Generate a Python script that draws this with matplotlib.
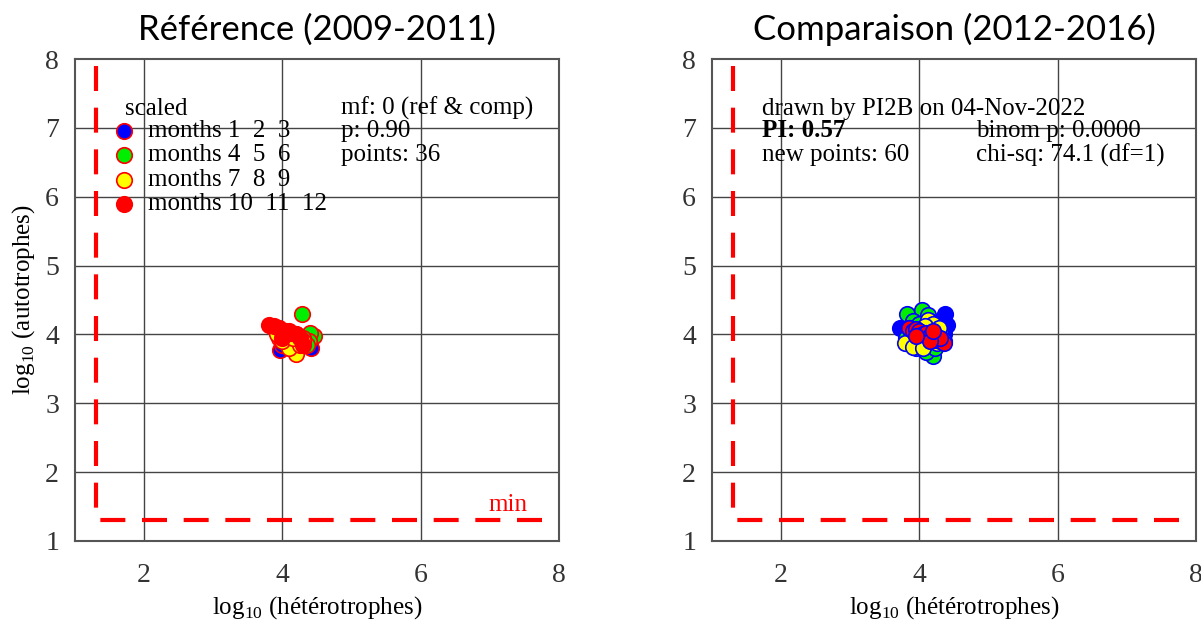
import numpy as np
import matplotlib
matplotlib.use('Agg')
import matplotlib.pyplot as plt

plt.rcParams['font.family'] = ['Liberation Serif', 'DejaVu Serif']
plt.rcParams['mathtext.fontset'] = 'custom'
plt.rcParams['mathtext.rm'] = 'Liberation Serif'

# reference period 2009-2011 (log10 values)
ref_blue_x = [3.97, 4.42, 4.30, 4.10, 4.05, 4.35, 4.15, 4.25, 4.00]
ref_blue_y = [3.78, 3.80, 3.85, 3.90, 3.95, 3.92, 3.82, 3.88, 3.85]
ref_green_x = [4.29, 4.45, 4.40, 4.38, 4.20, 4.30, 4.10, 3.95, 4.35]
ref_green_y = [4.29, 3.98, 4.02, 3.90, 4.00, 3.95, 4.05, 4.00, 3.85]
ref_yellow_x = [3.88, 3.95, 4.20, 4.10, 4.25, 4.30, 4.00, 4.15, 3.92]
ref_yellow_y = [4.10, 3.95, 3.72, 3.80, 3.85, 3.90, 3.90, 3.95, 4.00]
ref_red_x = [3.80, 3.88, 3.95, 4.05, 4.12, 4.20, 4.00, 4.25, 4.30]
ref_red_y = [4.13, 4.12, 4.10, 4.05, 4.02, 4.00, 3.95, 3.95, 3.85]

# comparison period 2012-2016
cmp_blue_x = [4.37, 4.40, 3.72, 3.80, 4.30, 4.35, 3.85, 4.00, 4.25, 4.10, 4.20, 3.95, 4.30, 4.05, 4.15]
cmp_blue_y = [4.30, 4.14, 4.09, 4.00, 4.20, 4.00, 3.90, 3.85, 3.85, 3.95, 4.10, 4.10, 3.90, 4.05, 3.80]
cmp_green_x = [3.82, 4.03, 4.13, 4.20, 3.90, 4.10, 3.80, 4.25, 4.00, 4.30, 3.95, 4.15, 4.05, 4.22, 3.88]
cmp_green_y = [4.30, 4.35, 4.28, 3.68, 4.20, 3.75, 3.95, 4.00, 4.15, 4.05, 3.80, 4.20, 3.90, 3.80, 4.05]
cmp_yellow_x = [3.79, 4.13, 4.30, 4.00, 3.90, 4.20, 4.25, 3.85, 4.10, 4.05, 4.35, 3.95, 4.18, 4.28, 4.08]
cmp_yellow_y = [3.87, 4.21, 3.95, 3.95, 3.82, 4.15, 3.88, 4.10, 4.05, 3.80, 3.90, 4.00, 3.92, 4.10, 4.12]
cmp_red_x = [3.85, 3.90, 3.95, 4.00, 4.05, 4.10, 4.15, 4.20, 4.25, 4.30, 4.35, 4.30, 4.15, 3.95, 4.20]
cmp_red_y = [4.10, 4.05, 4.08, 4.05, 4.00, 4.02, 3.98, 3.95, 3.92, 3.90, 3.88, 3.95, 3.90, 3.98, 4.05]

season_colors = ['#0000ff', '#00ee00', '#ffff00', '#ff0000']
season_labels = ['months 1  2  3', 'months 4  5  6', 'months 7  8  9', 'months 10  11  12']
min_val = 1.3

fig = plt.figure(figsize=(12.01, 6.21), dpi=100)
ax1 = fig.add_axes([75/1201, 80/621, 484/1201, 482/621])
ax2 = fig.add_axes([712/1201, 80/621, 484/1201, 482/621])

def base_axes(ax, title):
    ax.set_xlim(1, 8)
    ax.set_ylim(1, 8)
    ax.set_xticks([2, 4, 6, 8])
    ax.set_yticks(range(1, 9))
    ax.tick_params(length=0, labelsize=20, labelcolor='#333333')
    ax.tick_params(axis='x', pad=16)
    ax.tick_params(axis='y', pad=11.5)
    for x in [2, 4, 6]:
        ax.axvline(x, color='#444444', lw=1, zorder=0)
    for y in range(2, 8):
        ax.axhline(y, color='#444444', lw=1, zorder=0)
    for s in ax.spines.values():
        s.set_color('#555555')
        s.set_linewidth(1.5)
    # detection limit
    ax.plot([min_val, min_val, 8], [7.9, min_val, min_val], color='red', lw=3,
            dashes=(6, 4), zorder=1)
    ax.set_xlabel(r'log$_{10}$ (hétérotrophes)', fontsize=18, labelpad=4)
    ax.set_title(title, fontsize=25, family=['Lato', 'DejaVu Sans'], pad=14)

base_axes(ax1, 'Référence (2009-2011)')
base_axes(ax2, 'Comparaison (2012-2016)')
ax1.set_ylabel(r'log$_{10}$ (autotrophes)', fontsize=18, labelpad=6)

ref = [(ref_blue_x, ref_blue_y), (ref_green_x, ref_green_y),
       (ref_yellow_x, ref_yellow_y), (ref_red_x, ref_red_y)]
cmp = [(cmp_blue_x, cmp_blue_y), (cmp_green_x, cmp_green_y),
       (cmp_yellow_x, cmp_yellow_y), (cmp_red_x, cmp_red_y)]
for (x, y), c in zip(ref, season_colors):
    ax1.scatter(x, y, s=125, color=c, edgecolors='red', linewidths=1.2, zorder=3)
for (x, y), c in zip(cmp, season_colors):
    ax2.scatter(x, y, s=125, color=c, edgecolors='blue', linewidths=1.2, zorder=3)

# legend block on reference panel
ax1.text(1.72, 7.28, 'scaled', fontsize=18, va='center')
rows = [6.96, 6.6, 6.25, 5.9]
for yy, c, lab in zip(rows, season_colors, season_labels):
    ax1.scatter([1.71], [yy], s=125, color=c, edgecolors='red', linewidths=1.2, zorder=3)
    ax1.text(2.06, yy, lab, fontsize=18, va='center')
ax1.text(4.84, 7.28, 'mf: 0 (ref & comp)', fontsize=18, va='center')
ax1.text(4.84, rows[0], 'p: 0.90', fontsize=18, va='center')
ax1.text(4.84, rows[1], 'points: 36', fontsize=18, va='center')
ax1.text(7.55, 1.36, 'min', fontsize=18, color='red', ha='right', va='bottom')

# statistics block on comparison panel
ax2.text(1.72, 7.28, 'drawn by PI2B on 04-Nov-2022', fontsize=18, va='center')
ax2.text(1.72, rows[0], 'PI: 0.57', fontsize=18, va='center', fontweight='bold')
ax2.text(1.72, rows[1], 'new points: 60', fontsize=18, va='center')
ax2.text(4.82, rows[0], 'binom p: 0.0000', fontsize=18, va='center')
ax2.text(4.82, rows[1], 'chi-sq: 74.1 (df=1)', fontsize=18, va='center')

fig.savefig('out.png', dpi=100)
